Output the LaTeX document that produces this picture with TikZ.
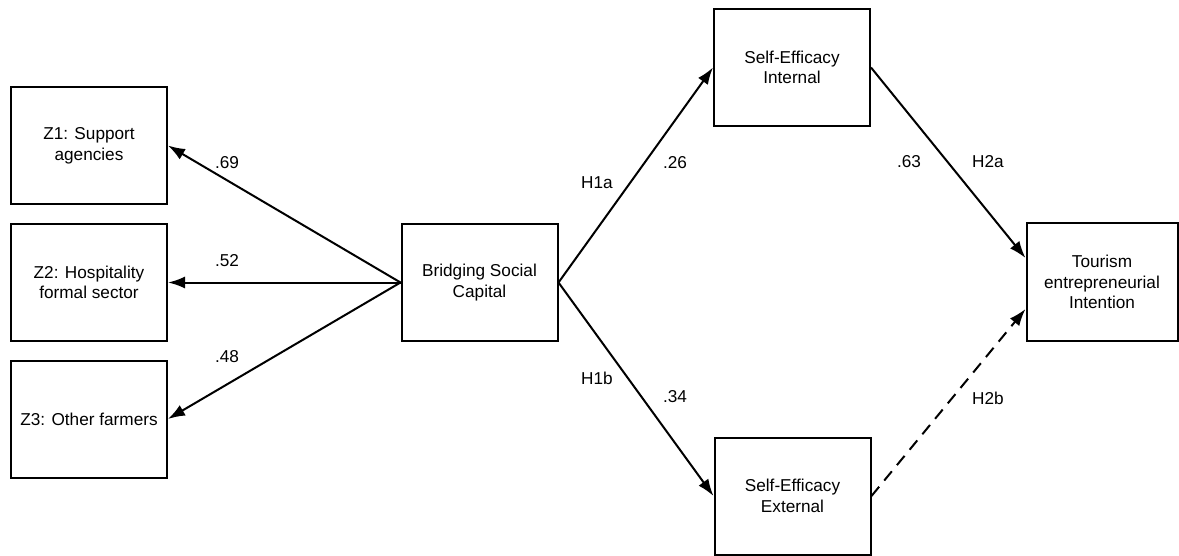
\documentclass[tikz,border=0pt]{standalone}
\usepackage{fontspec}
\setmainfont{Liberation Sans}
\usetikzlibrary{arrows.meta,calc}
\begin{document}
\begin{tikzpicture}[x=0.5pt,y=-0.5pt,
  box/.style={draw,line width=1pt,minimum width=78pt,minimum height=58.5pt,inner sep=0pt,align=center,font=\fontsize{8.6}{10.3}\selectfont},
  lbl/.style={font=\fontsize{8.6}{10.3}\selectfont,inner sep=0pt},
  arr/.style={line width=1pt,-{Latex[length=8.5pt,width=6pt]}},
  dashline/.style={dash pattern=on 6pt off 4pt},
]
\useasboundingbox[fill=white] (0,0) rectangle (1179,556);
\node[box] (z1) at (89,145.5) {Z1: Support\\agencies};
\node[box] (z2) at (89,282.5) {Z2: Hospitality\\formal sector};
\node[box] (z3) at (89,419) {Z3: Other farmers};
\node[box] (b) at (479.5,282.5) {Bridging Social\\Capital};
\node[box] (si) at (792,67.5) {Self-Efficacy\\Internal};
\node[box] (se) at (792.5,496) {Self-Efficacy\\External};
\node[box,minimum width=75.5pt] (t) at (1102,282) {Tourism\\entrepreneurial\\Intention};

\draw[arr] (b.west) -- (z1.east);
\draw[arr] (b.west) -- (z2.east);
\draw[arr] (b.west) -- (z3.east);
\draw[arr] (b.east) -- (si.west);
\draw[arr] (b.east) -- (se.west);
\draw[arr] (si.east) -- ($(t.west)+(0,-24)$);
\draw[arr,dashline] (se.east) -- ($(t.west)+(0,27)$);

\node[lbl] (l69) at (227,163) {.69};
\node[lbl] (l52) at (227,261) {.52};
\node[lbl] (l48) at (227,357) {.48};
\node[lbl] (h1a) at (597,183) {H1a};
\node[lbl] (l26) at (675,163) {.26};
\node[lbl] (h1b) at (597,378) {H1b};
\node[lbl] (l34) at (675,397) {.34};
\node[lbl] (l63) at (909,162) {.63};
\node[lbl] (h2a) at (988,162) {H2a};
\node[lbl] (h2b) at (988,398) {H2b};
\end{tikzpicture}
\end{document}
